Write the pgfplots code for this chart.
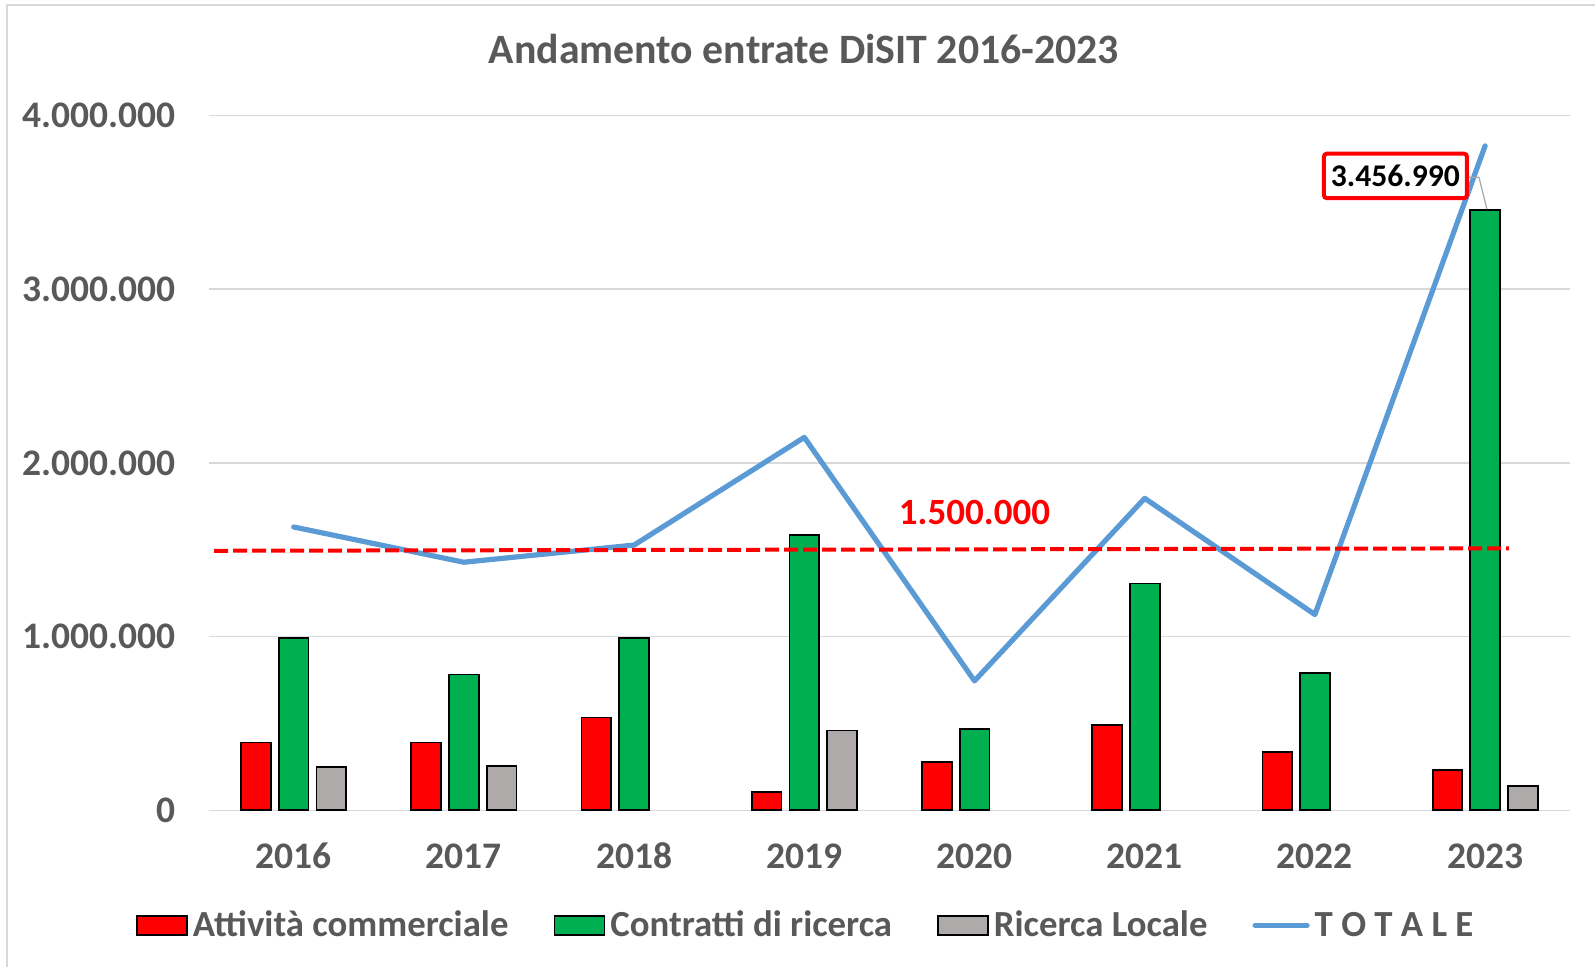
\documentclass[border=0pt]{standalone}
\usepackage{pgfplots}
\pgfplotsset{compat=1.18}
\usepackage{pgfplotstable}
\usepackage{fontspec}
\setmainfont{Carlito}

\definecolor{txtgray}{HTML}{595959}
\definecolor{gridgray}{HTML}{D9D9D9}
\definecolor{barred}{HTML}{FF0000}
\definecolor{bargreen}{HTML}{00B050}
\definecolor{bargray}{HTML}{AEAAAA}
\definecolor{totblue}{HTML}{5B9BD5}

% entrate per anno (x = 0..7 -> 2016..2023)
\pgfplotstableread{
x  comm    contr    loc     tot
0  390000  993000   248000  1631000
1  390000  782000   256000  1428000
2  534000  993000   nan     1527000
3  105000  1583000  459000  2147000
4  278000  467000   nan     745000
5  490000  1306000  nan     1796000
6  336000  791000   nan     1127000
7  232000  3456990  142000  3825000
}\entrate

\pgfplotsset{
  barleg/.style={legend image code/.code={\draw[##1,draw=black,line width=0.9pt] (0pt,-4.9pt) rectangle (25pt,4.9pt);}},
  lineleg/.style={legend image code/.code={\draw[##1] (1pt,0pt) -- (27pt,0pt);}},
}

\begin{document}
\begin{tikzpicture}
\path[use as bounding box] (0,0) rectangle (797.5pt,483.5pt);
\draw[gridgray, line width=1pt] (3.5pt,0) -- (3.5pt,481pt) -- (797.5pt,481pt);
\node[anchor=base, font=\bfseries\fontsize{20.9}{24}\selectfont, text=txtgray] at (402pt,451.9pt) {Andamento entrate DiSIT 2016-2023};
\begin{axis}[
  at={(104.3pt,78.35pt)}, anchor=south west,
  scale only axis, width=680.8pt, height=347.4pt,
  xmin=-0.5, xmax=7.5, ymin=0, ymax=4000000,
  clip=false,
  axis line style={draw=none}, major tick length=0pt,
  ymajorgrids, major grid style={gridgray, line width=0.7pt},
  xtick={0,...,7}, xticklabels={2016,2017,2018,2019,2020,2021,2022,2023},
  ytick={0,1000000,2000000,3000000,4000000},
  yticklabels={0,1.000.000,2.000.000,3.000.000,4.000.000},
  scaled y ticks=false,
  tick label style={font=\bfseries\fontsize{18.75}{20}\selectfont, text=txtgray, inner sep=0pt},
  xticklabel style={anchor=base, yshift=-29pt},
  yticklabel style={anchor=east, xshift=-16.3pt},
  legend columns=4,
  legend style={at={(-0.0535,-0.1658)}, anchor=west, draw=none, fill=none,
    inner sep=0pt, font=\bfseries\fontsize{18.4}{20}\selectfont, text=txtgray,
    nodes={inner sep=0pt},
    /tikz/every odd column/.append style={column sep=2.5pt},
    /tikz/every even column/.append style={column sep=22.5pt}},
]
\addplot[ybar, bar width=0.175, bar shift=-0.221, fill=barred, draw=black, line width=0.9pt, barleg]
  table[x=x, y=comm] {\entrate};
\addlegendentry{Attività commerciale}
\addplot[ybar, bar width=0.175, bar shift=0, fill=bargreen, draw=black, line width=0.9pt, barleg]
  table[x=x, y=contr] {\entrate};
\addlegendentry{Contratti di ricerca}
\addplot[ybar, bar width=0.175, bar shift=0.221, fill=bargray, draw=black, line width=0.9pt, barleg]
  table[x=x, y=loc] {\entrate};
\addlegendentry{Ricerca Locale}
\addplot[totblue, line width=2.6pt, line cap=round, line join=round, lineleg]
  table[x=x, y=tot] {\entrate};
\addlegendentry{T O T A L E}
% soglia 1.500.000
\addplot[barred, line width=2pt, dash pattern=on 7pt off 2.5pt, forget plot]
  coordinates {(-0.468,1494000) (7.14,1508000)};

\node[anchor=base, font=\bfseries\fontsize{18.5}{20}\selectfont, text=barred] at (axis cs:4,1648000) {1.500.000};
\draw[gray!70, line width=0.6pt] (axis cs:6.905,3644000) -- (axis cs:6.964,3644000) -- (axis cs:7.011,3460000);
\node[draw=barred, line width=2pt, rounded corners=1.5pt, fill=white, minimum width=71.5pt, minimum height=22.3pt,
  inner sep=0pt, font=\bfseries\fontsize{15.8}{18}\selectfont] at (axis cs:6.473,3652000) {3.456.990};
\end{axis}
\end{tikzpicture}
\end{document}
